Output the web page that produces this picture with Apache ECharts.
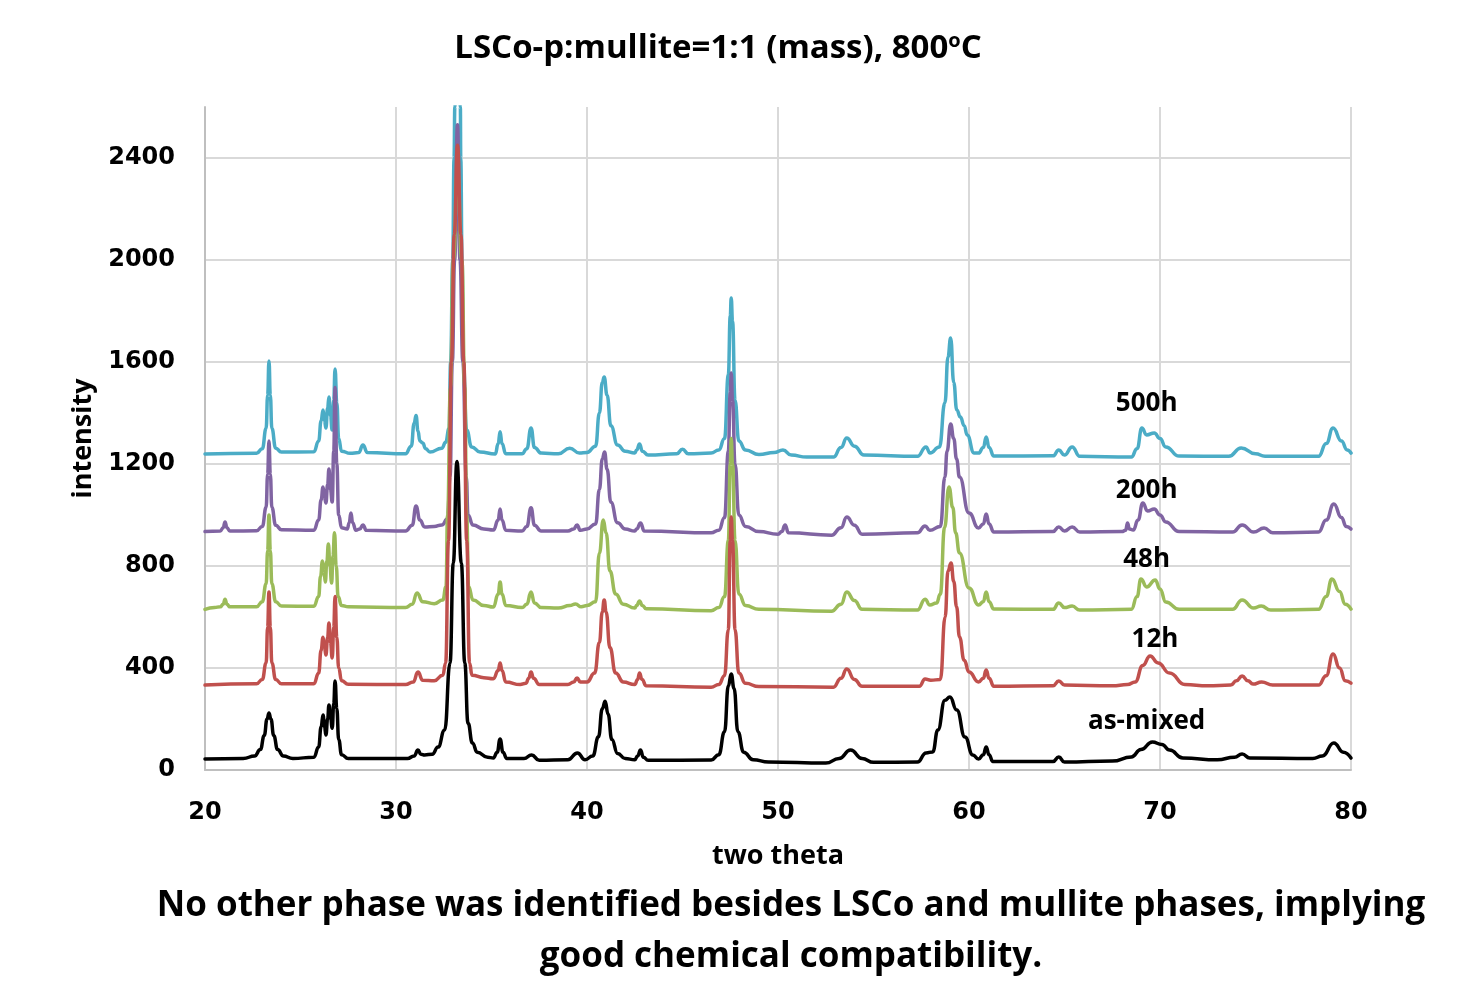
<!DOCTYPE html>
<html>
<head>
<meta charset="utf-8">
<script src="https://cdn.jsdelivr.net/npm/echarts@6/dist/echarts.min.js"></script>
<style>html,body{margin:0;padding:0;background:#fff;}#c{width:1472px;height:981px;}</style>
</head>
<body>
<div id="c"></div>
<script>
const seriesNames = ['500h', '200h', '48h', '12h', 'as-mixed'];
const labelX = [69.3, 69.3, 69.3, 69.74, 69.3];
const labelY = [1435, 1094, 824, 510, 188];

const asMixed = [
[20,43],[22,45],[22.6,55],[22.9,80],[23.1,135],[23.25,200],[23.35,224],[23.45,200],[23.6,135],[23.8,80],[24.1,55],[24.6,45],
[25.7,50],[25.95,90],[26.08,170],[26.18,216],[26.26,170],[26.33,137],[26.42,200],[26.49,255],[26.57,210],[26.66,164],[26.74,260],[26.81,349],[26.9,240],[27.0,120],[27.15,60],[27.5,45],
[30.6,45],[30.95,55],[31.15,78],[31.3,62],[31.5,59],[31.9,62],[32.2,90],[32.55,157],[32.83,420],[33.0,812],[33.19,1210],[33.42,812],[33.6,420],[33.77,184],[34.0,106],[34.25,70],[34.8,50],[35.1,47],
[35.3,70],[35.45,122],[35.6,70],[35.8,45],[36.7,45],[37.1,59],[37.5,38],[39.0,40],[39.5,67],[39.9,40],
[40.3,55],[40.6,130],[40.8,240],[40.95,270],[41.1,220],[41.3,120],[41.6,65],[42.0,45],[42.5,40],[42.65,55],[42.8,78],[42.95,50],[43.2,38],
[46.5,39],[46.9,60],[47.2,150],[47.4,330],[47.55,376],[47.7,320],[47.9,150],[48.2,70],[48.7,40],[49.5,31],
[52.5,27],[53.2,45],[53.8,78],[54.4,45],[55,30],
[57.3,31],[57.75,67],[58.1,71],[58.37,157],[58.74,274],[59.0,286],[59.36,235],[59.79,129],[60.2,59],[60.5,43],[60.75,60],[60.9,90],[61.05,60],[61.25,33],
[64.4,33],[64.7,51],[65.0,31],[67.5,35],[68.5,51],[69.0,80],[69.6,110],[70.1,100],[70.5,78],[71.2,47],[73.0,40],[73.9,50],[74.3,63],[74.7,47],[78.0,45],[78.5,55],[79.1,106],[79.6,70],[80,47]
];

const h12 = [
[20,333],[22.7,338],[23.0,355],[23.2,420],[23.28,560],[23.35,698],[23.42,560],[23.5,420],[23.7,355],[24.0,338],
[25.7,338],[25.95,380],[26.08,470],[26.18,521],[26.26,480],[26.33,451],[26.42,520],[26.49,576],[26.57,500],[26.66,439],[26.74,560],[26.81,680],[26.9,520],[27.0,400],[27.15,350],[27.5,336],
[30.5,335],[30.9,345],[31.15,384],[31.4,352],[32.0,350],[32.45,372],[32.6,420],[32.75,900],[32.9,1600],[33.05,2100],[33.22,2450],[33.4,2100],[33.55,1600],[33.7,900],[33.85,420],[33.98,372],[34.6,362],[35.1,358],
[35.35,390],[35.45,420],[35.55,390],[35.75,345],[36.5,335],[36.8,340],[36.95,360],[37.07,384],[37.2,360],[37.5,335],
[39.0,335],[39.3,345],[39.48,361],[39.65,345],[40.0,345],[40.4,380],[40.65,500],[40.8,620],[40.9,667],[41.0,620],[41.2,480],[41.5,380],[41.9,345],[42.5,335],[42.65,355],[42.75,380],[42.88,355],[43.1,330],
[46.5,325],[46.9,335],[47.2,370],[47.4,550],[47.5,900],[47.55,992],[47.62,900],[47.75,550],[47.95,380],[48.3,340],[49,327],
[52.9,325],[53.3,360],[53.6,396],[54.0,355],[54.4,328],
[57.4,328],[57.7,357],[58.0,352],[58.5,355],[58.75,600],[58.9,780],[59.06,812],[59.2,740],[59.35,640],[59.5,522],[59.75,430],[60.0,384],[60.5,345],[60.75,360],[60.9,392],[61.05,360],[61.3,328],
[64.4,330],[64.7,349],[65.0,333],[67.5,330],[68.3,335],[68.7,345],[69.1,410],[69.48,447],[69.9,420],[70.5,380],[71.3,335],[72.5,330],
[73.7,333],[74.0,350],[74.3,369],[74.6,350],[74.87,337],[75.32,345],[75.9,333],[78.3,333],[78.7,370],[79.06,455],[79.4,400],[79.7,350],[80,341]
];

const h48 = [
[20,630],[20.5,637],[20.8,640],[20.95,650],[21.05,670],[21.15,650],[21.3,640],[22.7,640],[23.0,660],[23.2,730],[23.28,860],[23.35,1000],[23.42,860],[23.5,730],[23.7,660],[24.0,643],
[25.7,642],[25.95,680],[26.05,760],[26.15,820],[26.23,780],[26.3,737],[26.38,820],[26.46,886],[26.54,800],[26.63,733],[26.7,840],[26.78,930],[26.87,800],[26.97,680],[27.15,645],[27.5,640],
[30.5,637],[30.85,650],[31.1,694],[31.4,660],[32.0,652],[32.45,667],[32.62,720],[32.7,1000],[32.85,1500],[33.0,2000],[33.22,2350],[33.45,2000],[33.6,1500],[33.7,1000],[33.8,720],[34.03,667],[34.6,645],[35.1,639],
[35.35,690],[35.45,737],[35.55,690],[35.75,645],[36.6,637],[36.85,650],[37.07,698],[37.25,655],[37.6,637],[38.5,635],[39.1,645],[39.4,651],[39.7,640],[40.0,645],[40.45,660],[40.65,850],[40.85,980],[41.0,930],[41.2,780],[41.5,690],[41.9,650],[42.5,635],[42.6,645],[42.75,663],[42.9,645],[43.1,632],
[46.5,625],[46.9,637],[47.2,680],[47.4,900],[47.5,1200],[47.55,1300],[47.62,1200],[47.75,900],[47.95,690],[48.3,645],[49,630],
[52.8,623],[53.3,650],[53.6,698],[54.0,665],[54.4,630],
[57.3,627],[57.7,670],[57.95,647],[58.3,655],[58.5,690],[58.72,950],[58.95,1110],[59.15,1030],[59.3,930],[59.5,851],[60.0,714],[60.5,647],[60.75,660],[60.9,698],[61.05,660],[61.3,631],
[64.4,630],[64.7,655],[65.0,637],[65.4,643],[65.8,627],[68.5,630],[68.8,680],[69.0,749],[69.3,718],[69.75,745],[70.0,710],[70.3,659],[71.0,630],
[73.8,630],[74.3,667],[74.9,635],[75.3,643],[75.8,627],[78.3,630],[78.7,680],[79.0,749],[79.4,700],[79.7,650],[80,631]
];

const h200 = [
[20,935],[20.8,937],[20.95,950],[21.05,973],[21.15,950],[21.3,937],[22.7,938],[23.0,955],[23.2,1030],[23.28,1160],[23.35,1290],[23.42,1160],[23.5,1030],[23.7,960],[24.0,942],
[25.7,940],[25.95,980],[26.08,1060],[26.18,1110],[26.26,1070],[26.33,1047],[26.42,1120],[26.49,1180],[26.57,1100],[26.66,1051],[26.74,1250],[26.81,1500],[26.9,1200],[27.0,1000],[27.15,950],[27.45,945],[27.55,970],[27.64,1008],[27.73,970],[27.9,940],[28.1,945],[28.27,961],[28.45,940],
[30.5,937],[30.85,960],[31.05,1035],[31.25,980],[31.5,953],[32.0,955],[32.4,961],[32.7,985],[32.83,1150],[32.95,1600],[33.07,2000],[33.22,2530],[33.35,2000],[33.5,1600],[33.68,1150],[33.77,1000],[34.03,961],[34.6,945],[35.1,941],
[35.35,980],[35.45,1024],[35.55,980],[35.75,940],[36.6,937],[36.85,955],[37.07,1028],[37.25,960],[37.6,937],[39.0,937],[39.3,945],[39.48,961],[39.65,940],[40.0,945],[40.45,965],[40.65,1100],[40.8,1220],[40.92,1247],[41.05,1180],[41.25,1050],[41.6,970],[42.0,945],[42.5,937],[42.6,945],[42.8,969],[43.0,937],
[46.5,930],[46.9,940],[47.2,990],[47.4,1250],[47.5,1480],[47.55,1557],[47.62,1450],[47.75,1200],[47.95,1000],[48.3,955],[49,935],[50.0,925],[50.2,935],[50.37,961],[50.55,930],
[52.8,921],[53.3,950],[53.6,992],[54.0,960],[54.4,925],
[57.3,930],[57.7,957],[57.95,940],[58.5,955],[58.74,1149],[58.85,1250],[59.04,1357],[59.2,1300],[59.35,1220],[59.5,1149],[60.0,1008],[60.5,949],[60.75,965],[60.9,1004],[61.05,965],[61.3,933],
[64.4,935],[64.7,953],[65.0,937],[65.4,953],[65.8,933],[68.0,935],[68.2,940],[68.3,969],[68.4,945],[68.6,941],[68.85,980],[69.1,1047],[69.35,1016],[69.7,1024],[70.0,1000],[70.3,973],[71.0,935],
[73.8,933],[74.3,961],[74.9,933],[75.45,949],[75.9,930],[78.3,933],[78.7,980],[79.1,1043],[79.5,990],[79.75,955],[80,945]
];

const h500 = [
[20,1239],[22.7,1242],[23.0,1260],[23.2,1340],[23.28,1470],[23.35,1604],[23.42,1470],[23.5,1340],[23.7,1262],[24.0,1247],
[25.7,1248],[25.95,1290],[26.08,1370],[26.18,1412],[26.26,1370],[26.33,1341],[26.42,1420],[26.49,1463],[26.57,1390],[26.66,1333],[26.74,1450],[26.81,1573],[26.9,1440],[27.0,1300],[27.15,1250],[27.6,1242],[28.05,1245],[28.27,1275],[28.5,1245],
[30.5,1240],[30.8,1270],[30.95,1360],[31.05,1390],[31.15,1330],[31.25,1290],[31.4,1282],[31.55,1260],[31.78,1247],[32.4,1262],[32.6,1285],[32.78,1340],[32.86,1600],[32.97,2000],[33.04,2400],[33.08,2600],[33.22,3100],[33.37,2600],[33.39,2400],[33.46,2000],[33.52,1600],[33.7,1333],[33.96,1267],[34.4,1247],[35.2,1239],
[35.35,1280],[35.45,1326],[35.55,1280],[35.75,1240],[36.6,1240],[36.85,1260],[37.07,1341],[37.25,1265],[37.6,1243],[38.5,1240],[39.1,1262],[39.6,1243],[40.0,1245],[40.45,1270],[40.65,1400],[40.8,1520],[40.9,1541],[41.05,1470],[41.25,1350],[41.6,1275],[42.0,1250],[42.5,1243],[42.6,1255],[42.75,1278],[42.9,1250],[43.2,1235],[44.7,1240],[45.0,1258],[45.3,1240],
[46.5,1243],[46.9,1255],[47.2,1300],[47.4,1550],[47.5,1780],[47.55,1851],[47.62,1760],[47.75,1450],[47.95,1290],[48.3,1255],[49.0,1237],[49.8,1245],[50.26,1255],[50.7,1235],[51.5,1227],[52.9,1227],[53.3,1265],[53.6,1302],[54.0,1270],[54.5,1235],
[57.3,1230],[57.75,1267],[57.96,1243],[58.45,1267],[58.74,1440],[58.9,1620],[59.04,1694],[59.2,1520],[59.36,1412],[59.55,1384],[59.75,1350],[59.9,1314],[60.27,1243],[60.5,1243],[60.75,1265],[60.9,1306],[61.05,1265],[61.3,1231],
[64.4,1232],[64.7,1255],[65.0,1235],[65.4,1267],[65.8,1230],[68.5,1227],[68.8,1260],[69.05,1341],[69.3,1314],[69.7,1322],[70.0,1300],[70.3,1267],[71.0,1231],[73.6,1230],[74.25,1263],[75.0,1240],[75.5,1230],[78.3,1230],[78.7,1280],[79.06,1341],[79.5,1290],[79.8,1255],[80,1243]
];

const seriesData = [h500, h200, h48, h12, asMixed];
const seriesColors = ['#4BACC6', '#8064A2', '#9BBB59', '#C0504D', '#000000'];

const chart = echarts.init(document.getElementById('c'), null, {renderer: 'canvas'});

const series = seriesData.map((d, i) => ({
  name: seriesNames[i],
  type: 'line',
  data: d,
  showSymbol: false,
  smooth: 0.5,
  smoothMonotone: 'x',
  clip: true,
  lineStyle: {color: seriesColors[i], width: 3.5, join: 'round', cap: 'round'},
  itemStyle: {color: seriesColors[i]},
  animation: false,
  markPoint: {
    symbol: 'circle',
    symbolSize: 0,
    silent: true,
    animation: false,
    data: [{coord: [labelX[i], labelY[i]], value: seriesNames[i]}],
    label: {
      show: true,
      position: 'inside',
      formatter: seriesNames[i],
      color: '#000',
      fontFamily: 'Open Sans',
      fontWeight: 'bold',
      fontSize: 26
    }
  }
}));

chart.setOption({
  animation: false,
  backgroundColor: '#fff',
  title: {
    text: 'LSCo-p:mullite=1:1 (mass), 800{sup|o}C',
    left: 713,
    top: 26,
    textAlign: 'center',
    textStyle: {
      fontFamily: 'Open Sans',
      fontWeight: 'bold',
      fontSize: 33,
      color: '#000',
      rich: {
        sup: {fontFamily: 'Open Sans', fontWeight: 'bold', fontSize: 20, verticalAlign: 'top', padding: [0, 0, 16, 0], color: '#000'}
      }
    }
  },
  grid: {left: 205, right: 121, top: 107, bottom: 211},
  xAxis: {
    type: 'value',
    min: 20,
    max: 80,
    interval: 10,
    name: 'two theta',
    nameLocation: 'middle',
    nameGap: 73,
    nameTextStyle: {fontFamily: 'Open Sans', fontWeight: 'bold', fontSize: 27, color: '#000'},
    axisLine: {show: true, lineStyle: {color: '#bfbfbf', width: 2}},
    axisTick: {show: false},
    axisLabel: {fontFamily: 'DejaVu Sans', fontWeight: 'bold', fontSize: 24, color: '#000', margin: 31, formatter: v => String(v)},
    splitLine: {show: true, lineStyle: {color: '#d9d9d9', width: 2}}
  },
  yAxis: {
    type: 'value',
    min: 0,
    max: 2600,
    interval: 400,
    name: 'intensity',
    nameLocation: 'middle',
    nameGap: 104,
    nameRotate: 90,
    nameTextStyle: {fontFamily: 'Open Sans', fontWeight: 'bold', fontSize: 27, color: '#000'},
    axisLine: {show: true, lineStyle: {color: '#bfbfbf', width: 2}},
    axisTick: {show: false},
    axisLabel: {fontFamily: 'DejaVu Sans', fontWeight: 'bold', fontSize: 24, color: '#000', margin: 30, showMaxLabel: false, formatter: v => String(v)},
    splitLine: {show: true, showMaxLine: false, showMinLine: false, lineStyle: {color: '#d9d9d9', width: 2}}
  },
  graphic: [{
    type: 'text',
    silent: true,
    style: {
      text: 'No other phase was identified besides LSCo and mullite phases, implying\ngood chemical compatibility.',
      x: 791,
      y: 932,
      align: 'center',
      verticalAlign: 'middle',
      fontFamily: 'Open Sans',
      fontWeight: 'bold',
      fontSize: 35,
      lineHeight: 51,
      fill: '#000'
    }
  }],
  series: series
});
</script>
</body>
</html>
